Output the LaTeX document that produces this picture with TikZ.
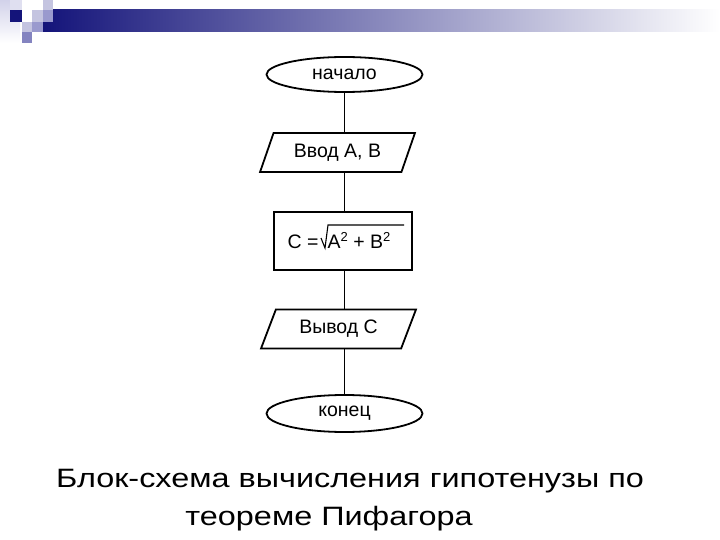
\documentclass[tikz,border=0pt]{standalone}
\usepackage{fontspec}
\usepackage{graphicx}
\setmainfont{Liberation Sans}
\usetikzlibrary{shapes.geometric,calc}
\definecolor{navy}{HTML}{14147A}
\definecolor{pale}{HTML}{D2D2EA}
\definecolor{lav}{HTML}{C4C4E0}
\definecolor{midlav}{HTML}{9A9ACE}
\definecolor{deeplav}{HTML}{8484C0}
\definecolor{barmid}{HTML}{9090B8}
\newcommand\sqt[1]{\scalebox{1}[0.82]{#1}}
\newcommand\supr[1]{\raisebox{7pt}{\fontsize{13}{14}\selectfont #1}}
\tikzset{
  flow/.style={draw=black, line width=1.8pt},
  term/.style={flow, ellipse, minimum width=156pt, minimum height=35pt, inner sep=0pt, font=\fontsize{19.5}{22}\selectfont},
  io/.style={flow, trapezium, trapezium left angle=62, trapezium right angle=118, trapezium stretches=true, minimum width=155pt, minimum height=39pt, inner sep=0pt, font=\fontsize{19.5}{22}\selectfont},
  proc/.style={flow, rectangle, minimum width=138pt, minimum height=58pt, inner sep=0pt, text height=14pt, text depth=0pt, font=\fontsize{19.5}{22}\selectfont},
  conn/.style={line width=1.8pt},
  radical/.style={line width=1.1pt, line join=miter},
  title/.style={anchor=base, font=\fontsize{32.4}{36}\selectfont}
}
\begin{document}
\begin{tikzpicture}[x=1pt,y=-1pt]
\useasboundingbox (0,0) rectangle (720,540);
\fill[white] (0,0) rectangle (720,540);
% decoration
\shade[top color=pale, bottom color=white] (0,0) rectangle (20,43);
\fill[pale!70] (10,0) rectangle (22,10);
\shade[left color=navy, middle color=barmid, right color=white] (43,10) rectangle (720,32);
\fill[navy] (10,10) rectangle (22,22);
\fill[lav] (32,10) rectangle (43,22);
\fill[lav] (43,0) rectangle (53,10);
\fill[midlav] (43,10) rectangle (53,22);
\fill[lav] (22,22) rectangle (32,32);
\fill[midlav] (32,22) rectangle (43,32);
\fill[deeplav] (22,32) rectangle (32,43);
% flowchart
\node[term] (start) at (344.5,74.5) {начало};
\node[io] (in) at (337.5,152.5) {Ввод А, В};
\node[proc] (calc) at (343,241) {C =\kern9pt A\supr{2} + B\supr{2}\kern8pt};
\node[io] (out) at (338.5,329) {Вывод С};
\node[term, minimum height=37pt] (stop) at (344.5,413.5) {конец};
\draw[radical] ($(calc.center)+(-22,-3)$) -- ($(calc.center)+(-18,7)$) -- ($(calc.center)+(-15,-16)$) -- ($(calc.center)+(61,-16)$);
\draw[conn] (start.south) -- (start.south |- in.north);
\draw[conn] (start.south |- in.south) -- (start.south |- calc.north);
\draw[conn] (start.south |- calc.south) -- (start.south |- out.north);
\draw[conn] (start.south |- out.south) -- (stop.north);
% title
\node[title] (t1) at (350,487) {\sqt{Блок-схема вычисления гипотенузы по}};
\node[title] (t2) at (329,525) {\sqt{теореме Пифагора}};
\end{tikzpicture}
\end{document}
